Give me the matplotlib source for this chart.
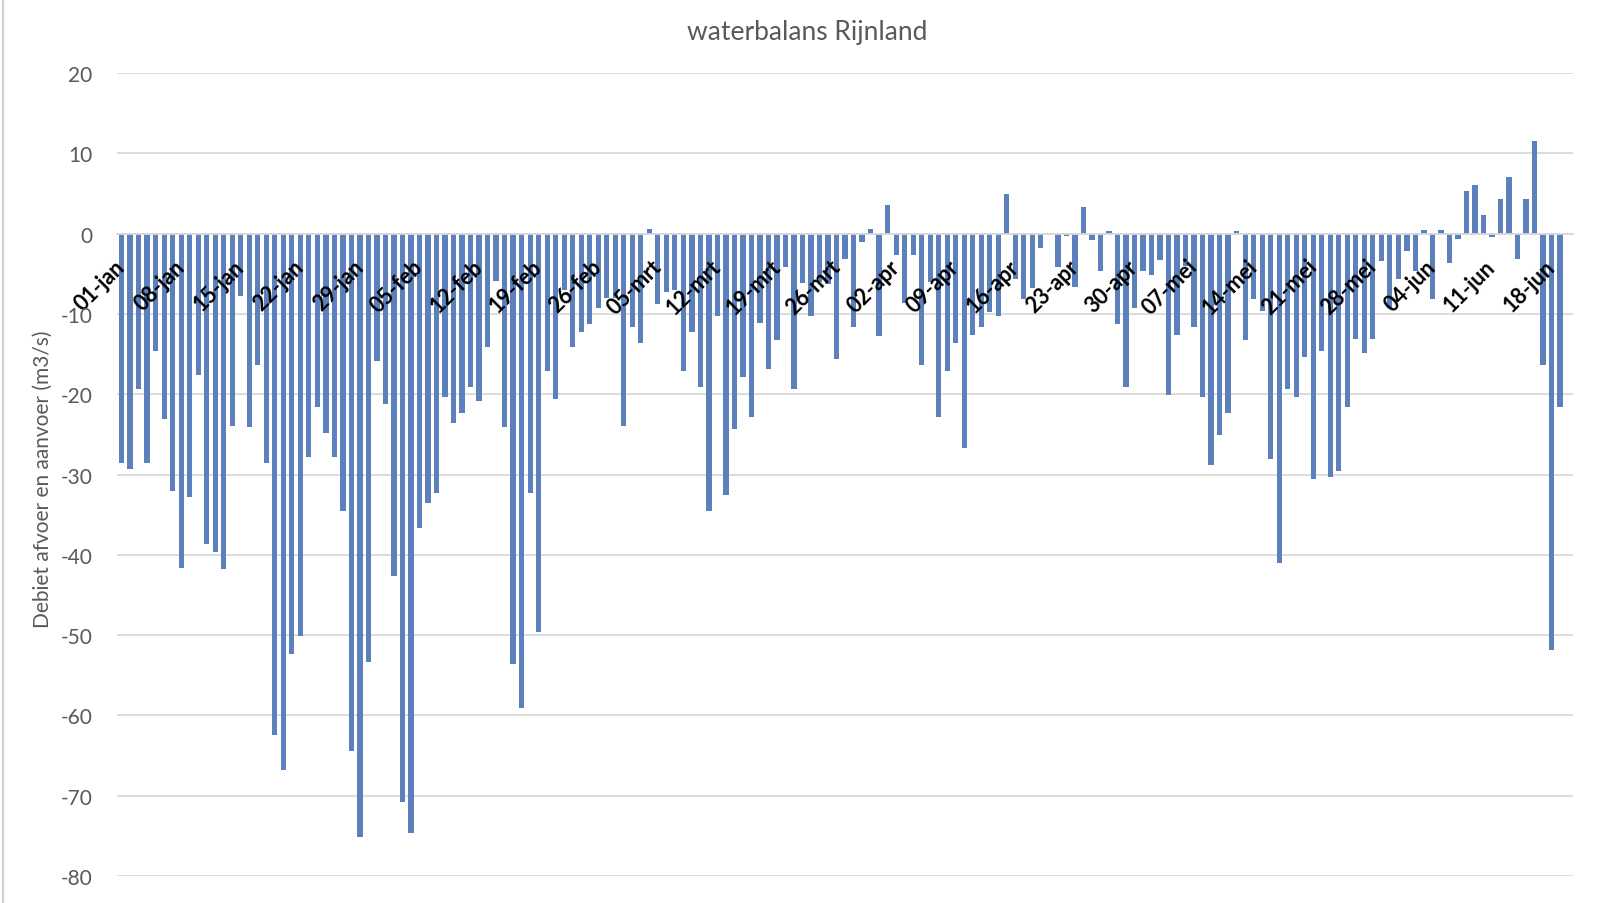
import numpy as np
import pandas as pd
import matplotlib
matplotlib.use('Agg')
import matplotlib.pyplot as plt
from matplotlib.lines import Line2D

# daily water balance Rijnland (m3/s), 01-jan .. 19-jun, last day empty
debiet = [
    -28.6, -29.3, -19.3, -28.6, -14.6, -23.1, -32.1, -41.6, -32.8, -17.6,
    -38.6, -39.6, -41.8, -23.9, -7.8, -24.1, -16.3, -28.6, -62.4, -66.8,
    -52.4, -50.1, -27.8, -21.6, -24.8, -27.8, -34.6, -64.4, -75.1, -53.4,
    -15.8, -21.2, -42.6, -70.8, -74.6, -36.6, -33.5, -32.3, -20.3, -23.6,
    -22.3, -19.1, -20.8, -14.1, -5.9, -24.1, -53.6, -59.1, -32.3, -49.6,
    -17.1, -20.6, -7.0, -14.1, -12.3, -11.3, -9.3, -8.0, -8.0, -23.9,
    -11.6, -13.6, 0.6, -8.8, -7.3, -7.0, -17.1, -12.3, -19.1, -34.6,
    -10.3, -32.6, -24.3, -17.8, -22.8, -11.1, -16.8, -13.3, -4.1, -19.3,
    -6.2, -10.3, -6.0, -6.3, -15.6, -3.1, -11.6, -1.0, 0.6, -12.8,
    3.6, -2.6, -8.6, -2.6, -16.3, -6.0, -22.8, -17.1, -13.6, -26.7,
    -12.6, -11.6, -9.8, -10.3, 4.9, -5.6, -8.1, -6.8, -1.8, 0.0,
    -4.1, -0.3, -6.6, 3.3, -0.8, -4.6, 0.3, -11.3, -19.1, -9.3,
    -4.6, -5.1, -3.3, -20.1, -12.6, -4.0, -11.6, -20.3, -28.8, -25.1,
    -22.3, 0.3, -13.3, -8.1, -9.6, -28.1, -41.0, -19.3, -20.3, -15.3,
    -30.6, -14.6, -30.3, -29.6, -21.6, -13.1, -14.8, -13.1, -3.4, -9.3,
    -5.6, -2.1, -4.6, 0.5, -8.1, 0.5, -3.6, -0.6, 5.3, 6.1,
    2.3, -0.4, 4.3, 7.1, -3.1, 4.3, 11.6, -16.4, -51.9, -21.6,
    np.nan,
]

maanden = ['jan', 'feb', 'mrt', 'apr', 'mei', 'jun']
dagen = pd.date_range('2019-01-01', periods=len(debiet), freq='D')
labels = ['%02d-%s' % (d.day, maanden[d.month - 1]) for d in dagen]

yticks = [20, 10, 0, -10, -20, -30, -40, -50, -60, -70, -80]

plt.rcParams['font.family'] = ['Lato', 'DejaVu Sans']

fig = plt.figure(figsize=(16.14, 9.04), dpi=100)
ax = fig.add_axes([0.0727, 0.0299, 0.9018, 0.8881])

# axis line at 0, like the category axis crossing at zero
ax.spines['bottom'].set_position(('data', 0))
ax.spines['bottom'].set_color('#d9d9d9')
ax.spines['bottom'].set_linewidth(1.3)
for s in ['top', 'right', 'left']:
    ax.spines[s].set_visible(False)

x = np.arange(len(debiet))
for t in yticks:
    ax.axhline(t, color='#d9d9d9', lw=1.3, zorder=0)
ax.bar(x, debiet, width=0.62, color='#5b80bc', zorder=1)

ax.set_xlim(-0.5, len(debiet) - 0.5)
ax.set_ylim(-80, 20)
ax.set_yticks(yticks)
ax.set_yticklabels([str(t) for t in yticks], color='#595959', fontsize=15)
ax.tick_params(axis='y', length=0, pad=18)

ax.set_xticks(x[::7])
ax.set_xticklabels(labels[::7], rotation=45, ha='right', va='center',
                   rotation_mode='anchor', fontsize=15.5, fontweight='bold',
                   color='black')
ax.tick_params(axis='x', length=0, pad=21)

ax.set_ylabel('Debiet afvoer en aanvoer (m3/s)', color='#595959', fontsize=15)
ax.yaxis.set_label_coords(-0.0445, 0.495)

fig.text(0.5, 0.964, 'waterbalans Rijnland', ha='center', va='center',
         color='#595959', fontsize=19)

# edge of the sheet on the left
fig.add_artist(Line2D([0.0018, 0.0018], [0, 1], transform=fig.transFigure,
                      color='#d0d0d0', lw=1.5))

fig.savefig('out.png', dpi=100)
